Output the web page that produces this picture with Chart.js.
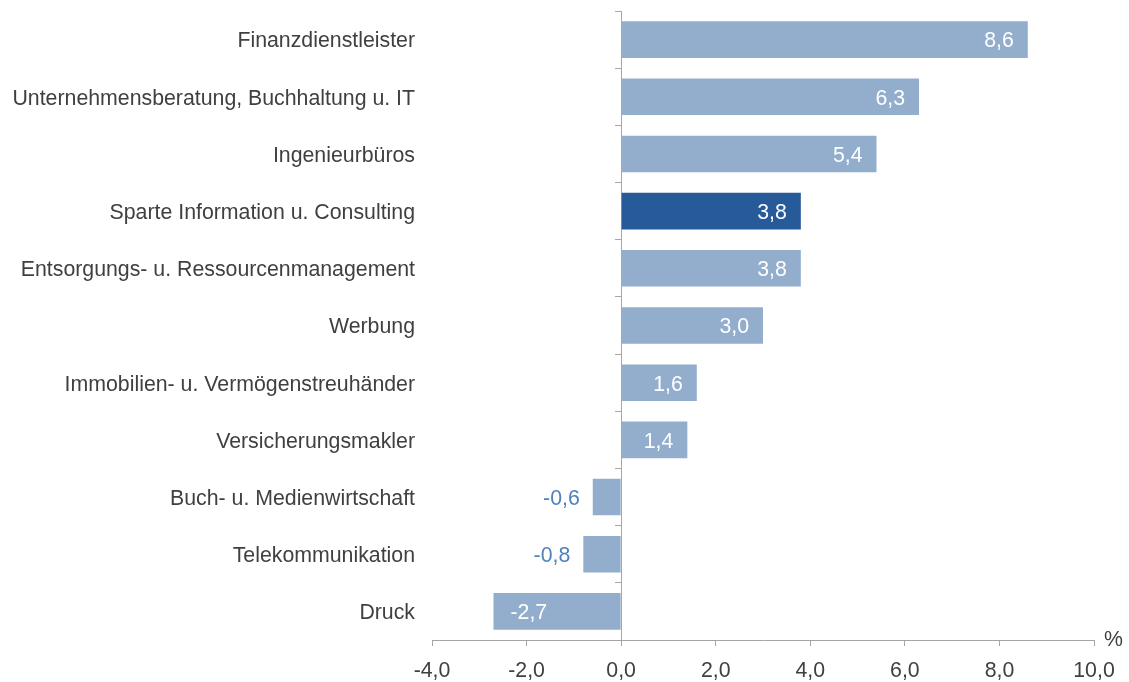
<!DOCTYPE html>
<html>
<head>
<meta charset="utf-8">
<script src="https://cdn.jsdelivr.net/npm/chart.js@4/dist/chart.umd.min.js"></script>
<style>
html,body{margin:0;padding:0;background:#fff;}
#wrap{width:1129px;height:682px;}
</style>
</head>
<body>
<div id="wrap"><canvas id="c" width="1129" height="682"></canvas></div>
<script>
const categories = [
  "Finanzdienstleister",
  "Unternehmensberatung, Buchhaltung u. IT",
  "Ingenieurbüros",
  "Sparte Information u. Consulting",
  "Entsorgungs- u. Ressourcenmanagement",
  "Werbung",
  "Immobilien- u. Vermögenstreuhänder",
  "Versicherungsmakler",
  "Buch- u. Medienwirtschaft",
  "Telekommunikation",
  "Druck"
];
const values = [8.6, 6.3, 5.4, 3.8, 3.8, 3.0, 1.6, 1.4, -0.6, -0.8, -2.7];
const highlightCategory = "Sparte Information u. Consulting";
const xTicks = [-4, -2, 0, 2, 4, 6, 8, 10];
const unitLabel = "%";

const FONT = "'Liberation Sans', Arial, sans-serif";
const FSIZE = 21.3;
const TEXT = "#404040";
const AXIS = "#a6a6a6";
const LIGHT = "#93aecd";
const DARK = "#275a99";
const NEG_LABEL = "#4f81bd";

const fmt = v => v.toFixed(1).replace('.', ',');

const labelPlugin = {
  id: 'valueLabels',
  afterDatasetsDraw(chart) {
    const ctx = chart.ctx;
    const meta = chart.getDatasetMeta(0);
    ctx.save();
    ctx.font = FSIZE + "px " + FONT;
    ctx.textBaseline = 'middle';
    meta.data.forEach((bar, i) => {
      const v = values[i];
      const txt = fmt(v);
      if (v >= 0) {
        ctx.fillStyle = '#ffffff';
        ctx.textAlign = 'right';
        ctx.fillText(txt, bar.x - 14, bar.y + 2);
      } else if (v < -1) {
        ctx.fillStyle = '#ffffff';
        ctx.textAlign = 'left';
        ctx.fillText(txt, bar.x + 17, bar.y + 2);
      } else {
        ctx.fillStyle = NEG_LABEL;
        ctx.textAlign = 'right';
        ctx.fillText(txt, bar.x - 13, bar.y + 2);
      }
    });
    const xs = chart.scales.x;
    ctx.fillStyle = TEXT;
    ctx.textAlign = 'left';
    ctx.fillText(unitLabel, xs.right + 10, xs.top);
    ctx.restore();
  }
};

new Chart(document.getElementById('c'), {
  type: 'bar',
  data: {
    labels: categories,
    datasets: [{
      data: values,
      backgroundColor: categories.map(c => c === highlightCategory ? DARK : LIGHT),
      borderWidth: 0,
      categoryPercentage: 1.0,
      barPercentage: 0.64
    }]
  },
  options: {
    indexAxis: 'y',
    responsive: false,
    animation: false,
    devicePixelRatio: 1,
    layout: { padding: { top: 11, right: 35, bottom: 0, left: 0 } },
    plugins: { legend: { display: false }, tooltip: { enabled: false } },
    scales: {
      x: {
        type: 'linear',
        min: -4, max: 10,
        afterBuildTicks: s => { s.ticks = xTicks.map(v => ({ value: v })); },
        afterFit: s => { s.height = 42; },
        grid: { display: true, drawOnChartArea: false, drawTicks: true, tickLength: 6, color: AXIS },
        border: { display: true, color: AXIS, width: 1 },
        ticks: {
          color: TEXT,
          font: { family: FONT, size: FSIZE },
          padding: 12,
          maxRotation: 0,
          callback: v => fmt(v)
        }
      },
      y: {
        type: 'category',
        offset: true,
        afterFit: s => { s.width = 432; s.paddingTop = 0; s.paddingBottom = 0; },
        grid: { display: false, drawTicks: false },
        border: { display: false },
        ticks: {
          color: TEXT,
          font: { family: FONT, size: FSIZE },
          padding: 17,
          labelOffset: 2,
          autoSkip: false
        }
      },
      y2: {
        type: 'category',
        axis: 'y',
        labels: categories,
        position: { x: 0 },
        offset: true,
        afterFit: s => { s.paddingTop = 0; s.paddingBottom = 0; },
        grid: { display: true, offset: true, drawOnChartArea: false, drawTicks: true, tickLength: 6, color: AXIS },
        border: { display: true, color: AXIS, width: 1 },
        ticks: { display: false }
      }
    }
  },
  plugins: [labelPlugin]
});
</script>
</body>
</html>
